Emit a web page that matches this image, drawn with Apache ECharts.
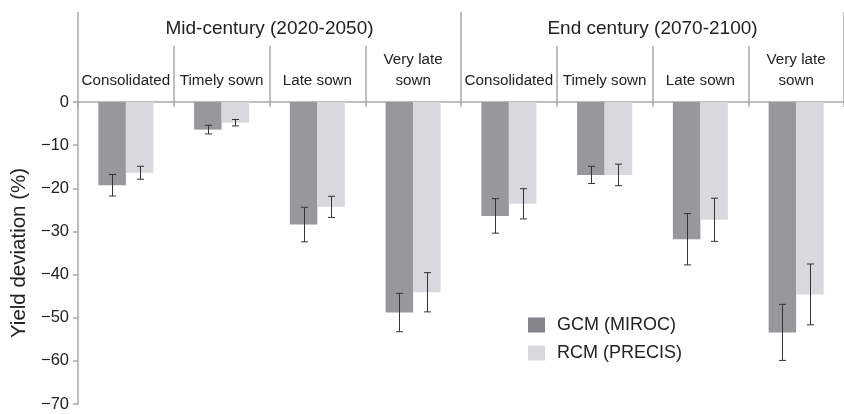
<!DOCTYPE html>
<html>
<head>
<meta charset="utf-8">
<script src="https://cdn.jsdelivr.net/npm/echarts@6/dist/echarts.min.js"></script>
<style>
  html, body { margin: 0; padding: 0; background: #fff; }
  #chart { width: 844px; height: 414px; }
</style>
</head>
<body>
<div id="chart"></div>
<script>
// Sowing-window categories, repeated for each period
const categories = ['Consolidated', 'Timely sown', 'Late sown', 'Very late\nsown',
                    'Consolidated', 'Timely sown', 'Late sown', 'Very late\nsown'];
const periods = ['Mid-century (2020-2050)', 'End century (2070-2100)'];

// Yield deviation (%) and error half-widths
const gcmValues = [-19.3, -6.4, -28.4, -48.8, -26.4, -16.9, -31.8, -53.4];
const gcmErrors = [2.5, 1.0, 4.0, 4.45, 4.0, 2.0, 5.95, 6.5];
const rcmValues = [-16.4, -4.8, -24.3, -44.1, -23.6, -16.9, -27.3, -44.6];
const rcmErrors = [1.5, 0.75, 2.45, 4.55, 3.5, 2.5, 5.0, 7.05];

const yTicks = { min: -70, max: 0, interval: 10 };

const FONT = '"Liberation Sans", Arial, Helvetica, sans-serif';
const TEXT = '#222';
const AXIS = '#a9a9ab';
const DARK = '#98979c';
const LIGHT = '#d9d9dd';
const BAR_W = 27.5;

const gridRect = { left: 78, top: 102, width: 777, height: 302 };

function errorData(values, errors) {
  return values.map((v, i) => [i, v - errors[i], v + errors[i]]);
}

function errorBarRenderer(shift) {
  return function (params, api) {
    const i = api.value(0);
    const lo = api.coord([i, api.value(1)]);
    const hi = api.coord([i, api.value(2)]);
    const x = Math.round(lo[0] + shift) + 0.5;
    const cap = 3.5;
    const style = { stroke: '#333', lineWidth: 1 };
    return {
      type: 'group',
      children: [
        { type: 'line', shape: { x1: x, y1: hi[1], x2: x, y2: lo[1] }, style },
        { type: 'line', shape: { x1: x - cap, y1: hi[1], x2: x + cap, y2: hi[1] }, style },
        { type: 'line', shape: { x1: x - cap, y1: lo[1], x2: x + cap, y2: lo[1] }, style }
      ]
    };
  };
}

const chart = echarts.init(document.getElementById('chart'));

chart.setOption({
  backgroundColor: '#fff',
  animation: false,
  textStyle: { fontFamily: FONT, color: TEXT },
  grid: [
    Object.assign({}, gridRect),
    Object.assign({}, gridRect),
    Object.assign({}, gridRect)
  ],
  xAxis: [
    { // sowing-window header with separators above the zero line
      type: 'category', gridIndex: 0, position: 'top', data: categories,
      axisLine: { show: true, lineStyle: { color: AXIS, width: 1.5 } },
      axisTick: { show: true, interval: 0, length: 56, lineStyle: { color: AXIS, width: 1.5 } },
      axisLabel: { interval: 0, margin: 11, fontSize: 15.2, lineHeight: 20.5, color: TEXT, fontFamily: FONT }
    },
    { // short stubs of the separators below the zero line
      type: 'category', gridIndex: 1, position: 'top', data: categories,
      axisLine: { show: false },
      axisTick: { show: true, inside: true, interval: 0, length: 5, lineStyle: { color: AXIS, width: 1.5 } },
      axisLabel: { show: false }
    },
    { // period header with full-height separators
      type: 'category', gridIndex: 2, position: 'top', data: periods,
      axisLine: { show: false },
      axisTick: { show: true, interval: 0, length: 90, lineStyle: { color: AXIS, width: 1.5 } },
      axisLabel: { interval: 0, margin: 64, fontSize: 19, color: TEXT, fontFamily: FONT }
    }
  ],
  yAxis: [
    {
      type: 'value', gridIndex: 0,
      min: yTicks.min, max: yTicks.max, interval: yTicks.interval,
      name: 'Yield deviation (%)', nameLocation: 'middle', nameGap: 46,
      nameTextStyle: { fontSize: 20.5, color: TEXT, fontFamily: FONT },
      axisLine: { show: true, lineStyle: { color: AXIS, width: 1.5 } },
      axisTick: { show: true, length: 5, lineStyle: { color: AXIS, width: 1.5 } },
      splitLine: { show: false },
      axisLabel: {
        margin: 9, fontSize: 16.5, color: TEXT, fontFamily: FONT,
        formatter: v => String(v).replace('-', '\u2212')
      }
    },
    { type: 'value', gridIndex: 1, min: yTicks.min, max: yTicks.max, show: false },
    { type: 'value', gridIndex: 2, min: yTicks.min, max: yTicks.max, show: false }
  ],
  legend: {
    orient: 'vertical', left: 528, top: 316, padding: 0,
    itemWidth: 17, itemHeight: 15, itemGap: 10,
    icon: 'rect',
    textStyle: { fontSize: 18, color: TEXT, fontFamily: FONT, padding: [0, 0, 0, 7] },
    data: [
      { name: 'GCM (MIROC)', itemStyle: { color: '#86858b' } },
      { name: 'RCM (PRECIS)', itemStyle: { color: '#d8d8dc' } }
    ]
  },
  series: [
    {
      name: 'GCM (MIROC)', type: 'bar', xAxisIndex: 0, yAxisIndex: 0,
      data: gcmValues, barWidth: BAR_W, barGap: '0%',
      itemStyle: { color: DARK }
    },
    {
      name: 'RCM (PRECIS)', type: 'bar', xAxisIndex: 0, yAxisIndex: 0,
      data: rcmValues, barWidth: BAR_W, barGap: '0%',
      itemStyle: { color: LIGHT }
    },
    {
      name: 'GCM error', type: 'custom', xAxisIndex: 0, yAxisIndex: 0,
      data: errorData(gcmValues, gcmErrors),
      encode: { x: 0, y: [1, 2] },
      renderItem: errorBarRenderer(-BAR_W / 2), z: 5
    },
    {
      name: 'RCM error', type: 'custom', xAxisIndex: 0, yAxisIndex: 0,
      data: errorData(rcmValues, rcmErrors),
      encode: { x: 0, y: [1, 2] },
      renderItem: errorBarRenderer(BAR_W / 2), z: 5
    }
  ]
});
</script>
</body>
</html>
